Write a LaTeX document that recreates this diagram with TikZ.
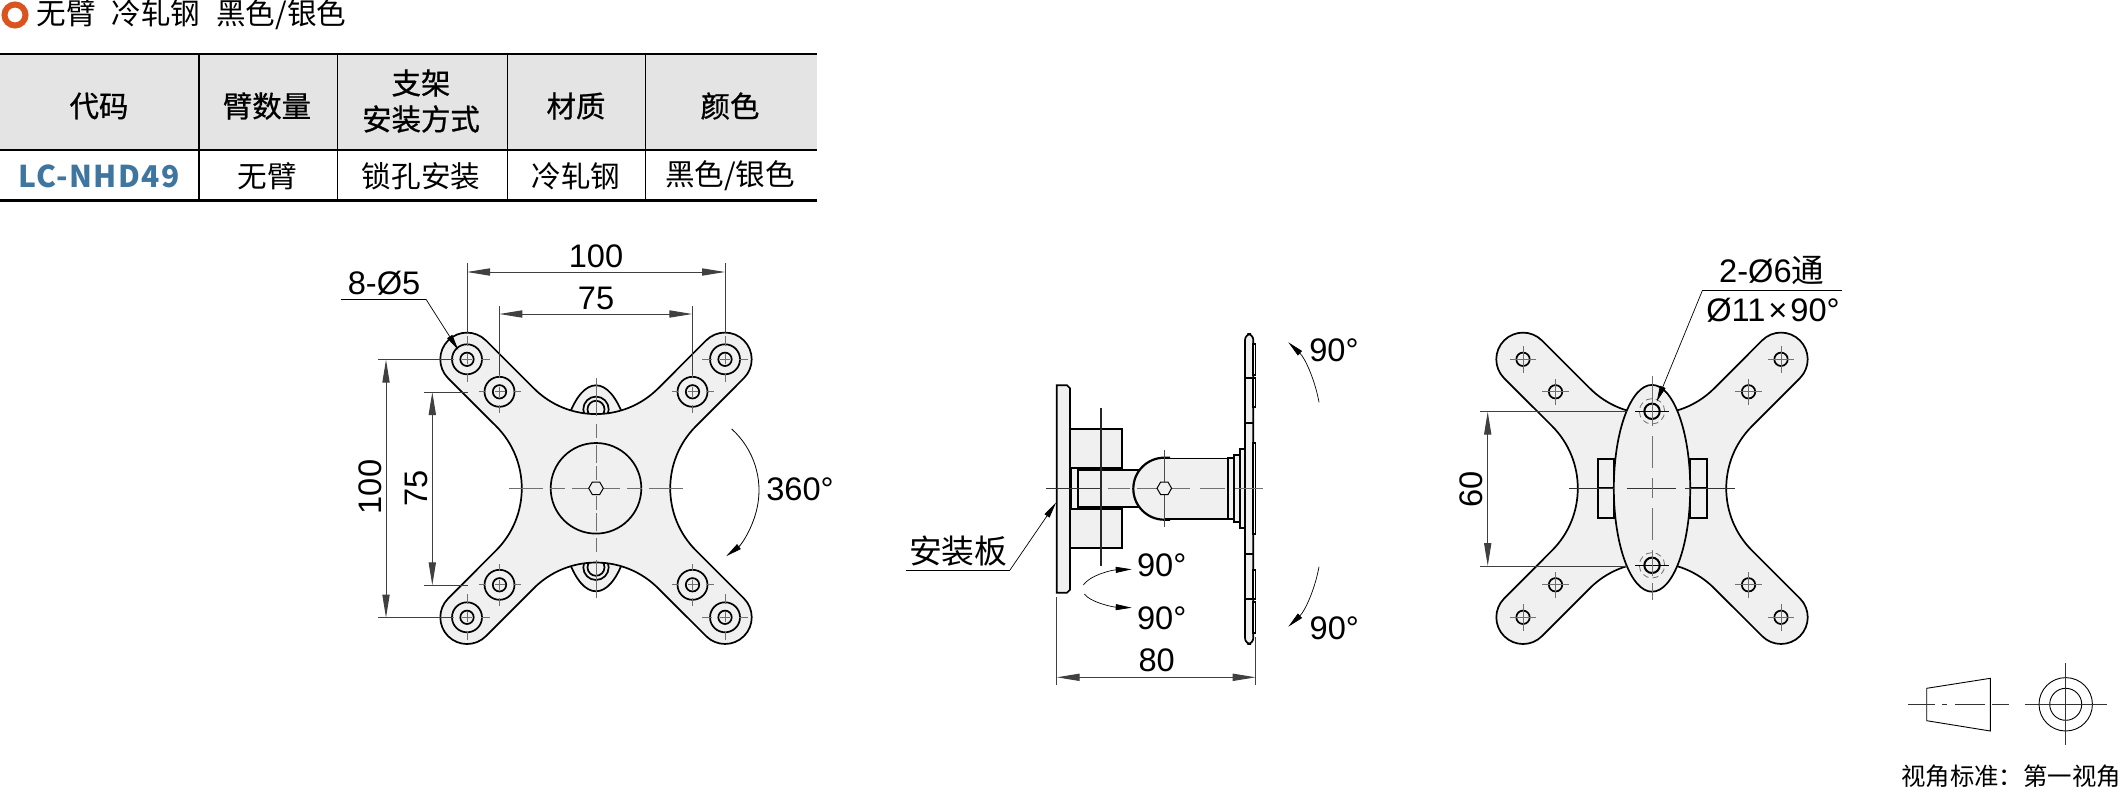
\documentclass[tikz,border=0pt]{standalone}
\usepackage{fontspec}
\setmainfont{Liberation Sans}
\newfontfamily\cjk{Noto Sans CJK SC}
\newfontfamily\cjkb[FakeBold=0.8]{Noto Sans CJK SC}
\newfontfamily\codefont[LetterSpace=5]{Noto Sans CJK SC}
\usetikzlibrary{arrows.meta,calc}
\definecolor{partfill}{HTML}{F0F0F0}
\definecolor{headfill}{HTML}{E4E4E4}
\definecolor{ringcol}{HTML}{D9541E}
\definecolor{codecol}{HTML}{3F76A0}
\definecolor{axiscol}{HTML}{707070}
\tikzset{
  outline/.style={draw=black, line width=0.85pt, fill=partfill},
  thinline/.style={draw=black, line width=0.85pt},
  heavyline/.style={draw=black, line width=1.1pt},
  axis/.style={draw=axiscol, line width=0.5pt},
  dimline/.style={draw=black!75, line width=0.5pt},
  dimarrow/.style={dimline, {Triangle[length=11.5pt,width=3.6pt]}-{Triangle[length=11.5pt,width=3.6pt]}},
  leader/.style={draw=black, line width=0.35pt, -{Triangle[length=8pt,width=3pt]}},
  dim/.style={font=\fontsize{16.3}{18}\selectfont, inner sep=0pt},
  tabhead/.style={font=\fontsize{14.7}{18}\cjkb, inner sep=0pt},
  tabcell/.style={font=\fontsize{14.8}{18}\cjk, inner sep=0pt}
}
% X-shaped plate, local origin at its middle
\newcommand{\plateoutline}{(-110.1,147.9) -- (-62.2,100)
  arc[start angle=225,end angle=315,radius=88] -- (110.1,147.9)
  arc[start angle=135,end angle=-45,radius=26.7] -- (100,62.2)
  arc[start angle=135,end angle=225,radius=88] -- (147.9,-110.1)
  arc[start angle=45,end angle=-135,radius=26.7] -- (62.2,-100)
  arc[start angle=45,end angle=135,radius=88] -- (-110.1,-147.9)
  arc[start angle=-45,end angle=-225,radius=26.7] -- (-100,-62.2)
  arc[start angle=-45,end angle=45,radius=88] -- (-147.9,110.1)
  arc[start angle=225,end angle=45,radius=26.7] -- cycle}
\newcommand{\hexbolt}[1]{\draw[thinline, line width=0.5pt, fill=partfill, shift={#1}]
  (7.3,0) -- (3.65,6.3) -- (-3.65,6.3) -- (-7.3,0) -- (-3.65,-6.3) -- (3.65,-6.3) -- cycle;}

\begin{document}
\begin{tikzpicture}[x=0.5pt, y=0.5pt]
  \useasboundingbox (0,0) rectangle (2123,-792);

  % title and table
  \draw[ringcol, line width=3pt] (15,-15) circle[radius=10.5];
  \node[tabcell, anchor=west] (title) at (36,-15)
    {无臂\hspace{8pt}冷轧钢\hspace{8pt}黑色/银色};
  \fill[headfill] (0,-54) rectangle (817,-150);
  \draw[heavyline] (0,-54) -- (817,-54);
  \draw[heavyline] (0,-150) -- (817,-150);
  \draw[heavyline] (0,-200.5) -- (817,-200.5);
  \draw[heavyline, line width=0.9pt] (199,-54) -- (199,-200.5);
  \foreach \x in {337,507,645}
    \draw[line width=0.5pt] (\x,-54) -- (\x,-200.5);
  \node[tabhead] (hcode) at (99,-106) {代码};
  \node[tabhead] (harm) at (267,-106) {臂数量};
  \node[tabhead] (hmount1) at (421,-83) {支架};
  \node[tabhead] (hmount2) at (421,-119) {安装方式};
  \node[tabhead] (hmat) at (576,-106) {材质};
  \node[tabhead] (hcol) at (730,-106) {颜色};
  \node[font=\fontsize{15}{18}\codefont\bfseries, text=codecol, inner sep=0pt] (ccode) at (99,-176) {LC-NHD49};
  \node[tabcell] (carm) at (267,-176) {无臂};
  \node[tabcell] (cmount) at (421,-176) {锁孔安装};
  \node[tabcell] (cmat) at (576,-176) {冷轧钢};
  \node[tabcell] (ccol) at (730,-176) {黑色/银色};

  % front view
  \begin{scope}[shift={(596,-488.3)}]
    \draw[outline] (0,0) ellipse[x radius=38.3, y radius=103];
    \foreach \y in {79,-79} {
      \draw[thinline] (0,\y) circle[radius=12.7];
      \draw[thinline] (0,\y) circle[radius=8.5];
    }
    \draw[outline] \plateoutline;
    \draw[thinline] (0,0) circle[radius=45.3];
    \foreach \x in {-129,129} \foreach \y in {-129,129} {
      \draw[thinline] (\x,\y) circle[radius=15];
      \draw[thinline] (\x,\y) circle[radius=6.7];
      \foreach \a/\b in {-5/5,13.5/23,-23/-13.5} {
        \draw[axis] ($(\x,\y)+(\a,0)$) -- ($(\x,\y)+(\b,0)$);
        \draw[axis] ($(\x,\y)+(0,\a)$) -- ($(\x,\y)+(0,\b)$);
      }
    }
    \foreach \x in {-96.5,96.5} \foreach \y in {-96.5,96.5} {
      \draw[thinline] (\x,\y) circle[radius=15];
      \draw[thinline] (\x,\y) circle[radius=6.7];
      \foreach \a/\b in {-5/5,13.5/21,-21/-13.5} {
        \draw[axis] ($(\x,\y)+(\a,0)$) -- ($(\x,\y)+(\b,0)$);
        \draw[axis] ($(\x,\y)+(0,\a)$) -- ($(\x,\y)+(0,\b)$);
      }
    }
    \foreach \a/\b in {-87/-53,-46/-31,-24/-8,8/24,31/46,53/87} \draw[axis] (\a,0) -- (\b,0);
    \foreach \a/\b in {-110/-72,-64/-50,-43/-25,-22/-8,8/22,25/43,50/64,72/110} \draw[axis] (0,\a) -- (0,\b);
    \hexbolt{(0,0)}
  \end{scope}
  \draw[dimline] (467,-263) -- (467,-333);
  \draw[dimline] (725,-263) -- (725,-333);
  \draw[dimarrow] (467,-272) -- (725,-272);
  \draw[dimline] (499.3,-306) -- (499.3,-375);
  \draw[dimline] (692.3,-306) -- (692.3,-375);
  \draw[dimarrow] (499.3,-314) -- (692.3,-314);
  \draw[dimline] (378,-359.7) -- (452,-359.7);
  \draw[dimline] (378,-617.7) -- (452,-617.7);
  \draw[dimarrow] (386,-359.7) -- (386,-617.7);
  \draw[dimline] (424.3,-392) -- (468,-392);
  \draw[dimline] (424.3,-585.3) -- (468,-585.3);
  \draw[dimarrow] (432.3,-392) -- (432.3,-585.3);
  \node[dim] (w100) at (596,-256) {100};
  \node[dim] (w75) at (596,-298) {75};
  \node[dim, rotate=90] (h100) at (370,-487) {100};
  \node[dim, rotate=90] (h75) at (416,-488) {75};
  \node[dim] (holes) at (384,-283) {8-Ø5};
  \draw[line width=0.4pt] (341,-299.3) -- (426,-299.3);
  \draw[leader] (426,-299.3) -- (458.3,-350);
  \draw[leader, line width=0.4pt] (731.7,-429) arc[start angle=48, end angle=-53, radius=82.5];
  \node[dim] (turn) at (800,-489) {360°};

  % side view
  \draw[outline] (1056.7,-385.3) -- (1067,-385.3) -- (1070,-388.3) -- (1070,-589.7)
    -- (1067,-592.7) -- (1056.7,-592.7) -- cycle;
  \draw[outline] (1070,-429) rectangle (1122.3,-468.3);
  \draw[outline] (1070,-509) rectangle (1122.3,-548.3);
  \draw[outline] (1070.7,-468) rectangle (1122.3,-509);
  \draw[outline] (1077.7,-470) -- (1140,-470) -- (1140,-507.3) -- (1077.7,-507.3) -- cycle;
  \fill[partfill] (1164.3,-457.7) arc[start angle=90, end angle=270, radius=31]
    -- (1227.7,-519.7) -- (1227.7,-457.7) -- cycle;
  \draw[heavyline] (1170,-457.7) -- (1164.3,-457.7) arc[start angle=90, end angle=270, radius=31] -- (1170,-519.7);
  \draw[heavyline, line width=0.85pt] (1164.3,-458.5) -- (1227.7,-458.5);
  \draw[thinline] (1164.3,-518.8) -- (1227.7,-518.8);
  \draw[outline] (1227.7,-458) rectangle (1234.3,-519);
  \draw[outline] (1234.3,-455) rectangle (1240,-521.7);
  \draw[outline] (1240,-449.3) rectangle (1245,-527.7);
  \draw[outline, rounded corners=3pt] (1245,-334) rectangle (1253.3,-644);
  \foreach \y in {377.7,423.3,554.3,599.3}
    \draw[thinline] (1245,-\y) -- (1253.3,-\y);
  \foreach \a/\b in {344.3/375,377.7/406.7,442.7/534,570/599.3,601.7/632.7}
    \draw[thinline, fill=white] (1253.3,-\a) rectangle (1255.5,-\b);
  \draw[line width=0.9pt, draw=black!85] (1100.7,-407.7) -- (1100.7,-566);
  \draw[axis, draw=black!80] (1046,-488.3) -- (1101,-488.3);
  \foreach \a/\b in {1108/1130,1137/1160,1172/1190,1200/1225,1235/1262.7}
    \draw[axis] (\a,-488.3) -- (\b,-488.3);
  \draw[axis, draw=black!70] (1164.3,-450) -- (1164.3,-527);
  \hexbolt{(1164.3,-488.3)}
  \node[font=\fontsize{16.4}{18}\cjk, inner sep=0pt] (mountlabel) at (958.3,-550.7) {安装板};
  \draw[line width=0.4pt] (905.7,-570) -- (1010,-570);
  \draw[leader] (1010,-570) -- (1056,-502.7);
  \node[dim] (ang1) at (1334,-350) {90°};
  \node[dim] (ang2) at (1161.7,-565) {90°};
  \node[dim] (ang3) at (1161.7,-618.3) {90°};
  \node[dim] (ang4) at (1334.3,-628.3) {90°};
  \draw[leader] (1319,-402.3) .. controls (1315,-380) and (1305,-358) .. (1288.3,-342.3);
  \draw[leader] (1319,-566.7) .. controls (1315,-589) and (1305,-611) .. (1288.3,-626.7);
  \draw[leader] (1083.3,-585) .. controls (1090,-575) and (1112,-570) .. (1131.7,-569.3);
  \draw[leader] (1084.3,-594) .. controls (1090,-602) and (1112,-607) .. (1131.7,-607.7);
  \draw[dimline] (1056.7,-597.3) -- (1056.7,-685);
  \draw[dimline] (1255.7,-636.7) -- (1255.7,-685);
  \draw[dimarrow] (1056.7,-677.3) -- (1255.7,-677.3);
  \node[dim] (d80) at (1156.7,-660) {80};

  % rear view
  \begin{scope}[shift={(1652,-488.3)}]
    \draw[outline] \plateoutline;
    \draw[thinline, line width=0.9pt] (-54.3,29.3) rectangle (-38,-30);
    \draw[thinline, line width=0.9pt] (38,29.3) rectangle (54.7,-30);
    \draw[thinline, line width=0.9pt] (-54.3,0) -- (-38,0) (38,0) -- (54.7,0);
    \draw[outline] (0,0) ellipse[x radius=38.2, y radius=103.4];
    \foreach \x in {-129,129} \foreach \y in {-129,129} {
      \draw[thinline] (\x,\y) circle[radius=6.7];
      \draw[axis] ($(\x,\y)+(-13.3,0)$) -- ($(\x,\y)+(13.3,0)$);
      \draw[axis] ($(\x,\y)+(0,-13.3)$) -- ($(\x,\y)+(0,13.3)$);
    }
    \foreach \x in {-96.5,96.5} \foreach \y in {-96.5,96.5} {
      \draw[thinline] (\x,\y) circle[radius=6.7];
      \draw[axis] ($(\x,\y)+(-13.3,0)$) -- ($(\x,\y)+(13.3,0)$);
      \draw[axis] ($(\x,\y)+(0,-13.3)$) -- ($(\x,\y)+(0,13.3)$);
    }
    \foreach \y in {77,-77} {
      \draw[thinline, line width=1pt] (0,\y) circle[radius=7.7];
      \draw[axis, densely dashed, line width=0.4pt] (0,\y) circle[radius=12.7];
      \draw[draw=black, line width=0.5pt] (-17,\y) -- (17,\y);
    }
    \draw[axis, draw=black!80] (-83,0) -- (-38,0) (-25.5,0) -- (24,0) (33,0) -- (83,0);
    \foreach \a/\b in {-112/-95,-88/-62,-52/-20,-10/10,20/52,62/95,95/112}
      \draw[axis] (0,\a) -- (0,\b);
  \end{scope}
  \draw[dimline] (1480,-411.7) -- (1626.7,-411.7);
  \draw[dimline] (1480,-566) -- (1626.7,-566);
  \draw[dimarrow] (1487.7,-411.7) -- (1487.7,-566);
  \node[dim, rotate=90] (h60) at (1471,-489) {60};
  \node[dim] (through) at (1771.7,-270.7) {2-Ø6{\cjk 通}};
  \node[dim] (chamfer) at (1773,-310.7) {Ø11\hspace{1.5pt}×\hspace{1.5pt}90°};
  \draw[line width=0.4pt] (1702.3,-290.7) -- (1841.7,-290.7);
  \draw[leader] (1702.3,-290.7) -- (1656.7,-401.7);

  % projection symbol
  \draw[line width=0.45pt] (1926.7,-688.3) -- (1990.3,-678.3) -- (1990.3,-731) -- (1926.7,-720.7) -- cycle;
  \draw[line width=0.45pt] (2065.7,-704.3) circle[radius=26.7];
  \draw[line width=0.45pt] (2065.7,-704.3) circle[radius=16];
  \draw[axis, draw=black!80, line width=0.4pt] (1908.3,-704.3) -- (1935,-704.3) (1942,-704.3) -- (1947,-704.3) (1955,-704.3) -- (1985,-704.3) (1992,-704.3) -- (2009.3,-704.3);
  \draw[axis, draw=black!80, line width=0.4pt] (2024.7,-704.3) -- (2106.7,-704.3);
  \draw[axis, draw=black!80, line width=0.4pt] (2065.7,-663.3) -- (2065.7,-745.3);
  \node[font=\fontsize{12.2}{14}\cjk, inner sep=0pt] (viewstd) at (2011,-776) {视角标准：第一视角};
\end{tikzpicture}
\end{document}
